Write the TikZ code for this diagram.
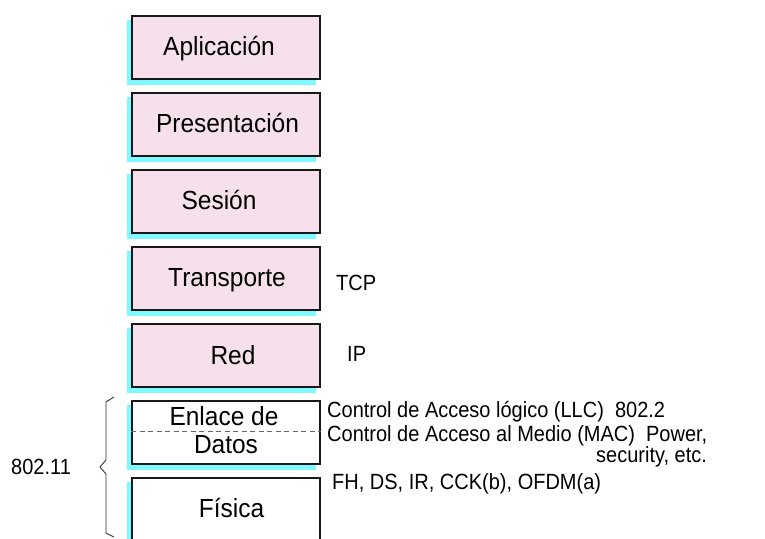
\documentclass[tikz,border=0pt]{standalone}
\usepackage{fontspec}
\setmainfont{Liberation Sans}
\definecolor{layerpink}{RGB}{245,224,236}
\definecolor{shadowcyan}{RGB}{128,248,255}
\definecolor{boxline}{RGB}{25,25,25}
\newcommand{\boxstretch}[1]{\scalebox{1}[1.07]{#1}}
\newcommand{\sidestretch}[1]{\scalebox{1}[1.1]{#1}}
\pgfdeclarelayer{background}
\pgfsetlayers{background,main}
\begin{document}
\begin{tikzpicture}[x=1pt,y=-1pt,
  layerbox/.style={draw=boxline, line width=1.6pt, fill=layerpink, minimum width=188pt, minimum height=63pt, inner sep=0pt, anchor=north west},
  whitebox/.style={layerbox, fill=white},
  boxtext/.style={font=\fontsize{24.5}{28}\selectfont, anchor=base, inner sep=0pt},
  sidetext/.style={font=\fontsize{20}{23}\selectfont, anchor=base west, inner sep=0pt},
  shadowfill/.style={fill=shadowcyan}]
\useasboundingbox (0,0) rectangle (765,538);
\begin{scope}
\clip (0,0) rectangle (765,538);
% boxes
\node[layerbox] (apl) at (131,15) {};
\node[layerbox] (pre) at (131,92) {};
\node[layerbox] (ses) at (131,169) {};
\node[layerbox] (tra) at (131,246) {};
\node[layerbox] (red) at (131,323) {};
\node[whitebox] (enl) at (131,400) {};
\node[whitebox, minimum height=90pt] (fis) at (131,477) {};
\begin{pgfonlayer}{background}
\foreach \b in {apl,pre,ses,tra,red,enl,fis}{
  \fill[shadowfill] ([xshift=-4.5pt,yshift=-5pt]\b.south west) rectangle ([xshift=-4.5pt,yshift=-5pt]\b.north east);
}
\end{pgfonlayer}
\draw[gray!80!black, line width=0.8pt, dash pattern=on 5pt off 3.5pt] (enl.west |- 0,431) -- (enl.east |- 0,431);
\end{scope}
% box texts
\node[boxtext] (tapl) at (219,55) {\boxstretch{Aplicación}};
\node[boxtext] (tpre) at (227.5,132) {\boxstretch{Presentación}};
\node[boxtext] (tses) at (219,209) {\boxstretch{Sesión}};
\node[boxtext] (ttra) at (227,286) {\boxstretch{Transporte}};
\node[boxtext] (tred) at (233,364) {\boxstretch{Red}};
\node[boxtext] (tenl) at (224,425) {\boxstretch{Enlace de}};
\node[boxtext] (tdat) at (226,453) {\boxstretch{Datos}};
\node[boxtext] (tfis) at (231.5,517) {\boxstretch{Física}};
% side texts
\node[sidetext] (tcp) at (336,290) {\sidestretch{TCP}};
\node[sidetext] (ip) at (347,361) {\sidestretch{IP}};
\node[sidetext] (llc) at (327,417) {\sidestretch{Control de Acceso lógico (LLC)\ \ 802.2}};
\node[sidetext] (mac) at (327,441) {\sidestretch{Control de Acceso al Medio (MAC)\ \ Power,}};
\node[sidetext] (sec) at (596,462) {\sidestretch{security, etc.}};
\node[sidetext] (phy) at (332,489) {\sidestretch{FH, DS, IR, CCK(b), OFDM(a)}};
\node[sidetext] (std) at (11,474) {\sidestretch{802.11}};
% brace
\coordinate (brtop) at (114,397);
\coordinate (brbot) at (114,537);
\draw[black!80, line width=0.9pt] (brtop) -- (106,402) -- (106,460) -- (100,467) -- (106,474) -- (106,533) -- (brbot);
\end{tikzpicture}
\end{document}
